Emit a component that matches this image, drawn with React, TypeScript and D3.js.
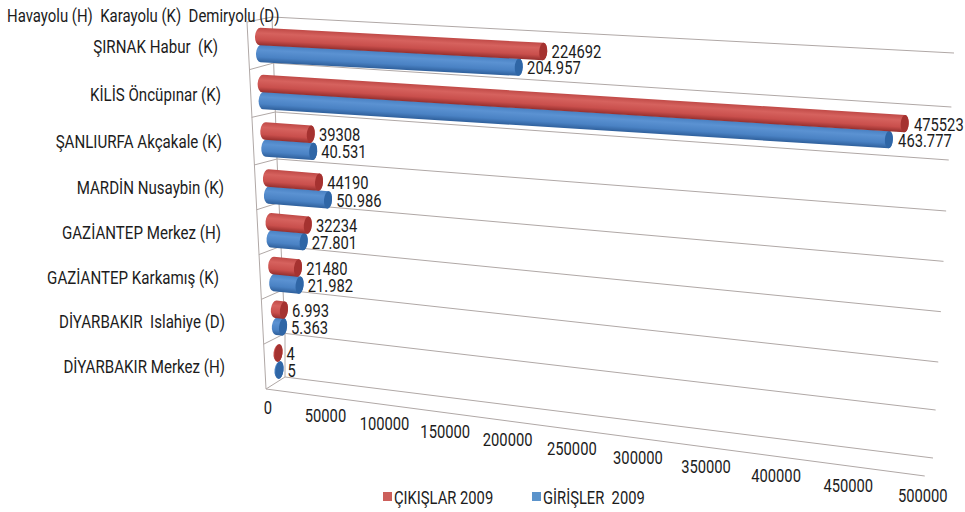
import React from "react";
import * as d3 from "d3";

const categories = ["ŞIRNAK Habur  (K)", "KİLİS Öncüpınar (K)", "ŞANLIURFA Akçakale (K)", "MARDİN Nusaybin (K)", "GAZİANTEP Merkez (H)", "GAZİANTEP Karkamış (K)", "DİYARBAKIR  Islahiye (D)", "DİYARBAKIR Merkez (H)"];
const cikislar = [224692, 475523, 39308, 44190, 32234, 21480, 6993, 4];
const girisler = [204957, 463777, 40531, 50986, 27801, 21982, 5363, 5];
const cikisLabels = ["224692", "475523", "39308", "44190", "32234", "21480", "6.993", "4"];
const girisLabels = ["204.957", "463.777", "40.531", "50.986", "27.801", "21.982", "5.363", "5"];
const ticks = [0, 50000, 100000, 150000, 200000, 250000, 300000, 350000, 400000, 450000, 500000];
const seriesNames = ["ÇIKIŞLAR 2009", "GİRİŞLER  2009"];
const note = "Havayolu (H)  Karayolu (K)  Demiryolu (D)";

const FONT = "Roboto,'Liberation Sans',sans-serif";
const INK = "#1c1c1c";
const LINE = "#b0a8a6";

// bar length along the (foreshortened) value axis
const barLen = d3.scaleLinear().domain([0, 50000, 225000, 476000]).range([0, 58, 284, 644]);
// row placement
const rowY = d3.scaleLinear().domain([0, 1, 2, 3, 7]).range([36.5, 83.5, 131, 178, 353]);
const rowX = d3.scaleLinear().domain([0, 7]).range([255, 273.5]);
const rowSlope = d3.scaleLinear().domain([0, 7]).range([0.053, 0.12]);
const labelY = d3.scaleLinear().domain([0, 1, 2, 3, 7]).range([53, 101, 148, 194, 373]);
const labelX = d3.scaleLinear().domain(d3.range(8)).range([218, 221, 222, 224, 221, 219, 225, 225]);
// walls and floor
const backX = d3.scaleLinear().domain([0, 3, 7, 8]).range([272, 277, 285, 285]);
const backY = d3.scaleLinear().domain([0, 1, 2, 3, 8]).range([17, 63, 112, 159, 377]);
const endX = d3.scaleLinear().domain([0, 8]).range([954, 933]);
const endY = d3.scaleLinear().domain([0, 1, 2, 3, 6, 8]).range([53, 107, 160, 211, 362, 458]);
const frontX = d3.scaleLinear().domain([0, 8]).range([247, 266]);
const frontY = d3.scaleLinear().domain([0, 3, 8]).range([22, 165, 389]);
// perspective on the value axis labels
const persp = (v: number) => {
  const u = v / 500000;
  return 268 + (567 * u) / (1 - 0.134 * u);
};
const tickY = d3.scaleLinear().domain([268, 923]).range([408, 496]);

const CAP_L = 5;
const CAP_R = 4;
const R = 8.7;

function Label({ x, y, anchor = "start", squeeze = 0.82, children }: any) {
  return (
    <text
      transform={`translate(${x},${y}) scale(${squeeze},1)`}
      textAnchor={anchor}
      fontSize={18}
      fill={INK}
      fontFamily={FONT}
      style={{ whiteSpace: "pre" }}
    >
      {children}
    </text>
  );
}

function Cyl({ i, value, dy, dx, cap, label, grad }: any) {
  const x0 = rowX(i) + dx;
  const y0 = rowY(i) + dy;
  const slope = rowSlope(i);
  const w = barLen(value);
  const angle = (Math.atan(slope) * 180) / Math.PI;
  const d = `M0,${-R} L${w},${-R} A${CAP_R},${R} 0 0 1 ${w},${R} L0,${R} A${CAP_L},${R} 0 0 1 0,${-R} Z`;
  const xEnd = x0 + CAP_L + w + CAP_R;
  const yEnd = y0 + slope * (CAP_L + w);
  return (
    <g>
      <g transform={`translate(${x0 + CAP_L},${y0}) rotate(${angle})`}>
        <path d={d} fill={`url(#${grad})`} />
        <ellipse cx={w} cy={0} rx={CAP_R} ry={R} fill={cap} />
      </g>
      <Label x={xEnd + 4} y={yEnd + 6.5}>{label}</Label>
    </g>
  );
}

export default function App() {
  const idx = d3.range(categories.length);
  return (
    <svg width={965} height={512} viewBox="0 0 965 512" style={{ position: "absolute", left: 0, top: 0, background: "#fff" }}>
      <defs>
        <linearGradient id="redG" x1="0" y1="0" x2="0" y2="1">
          <stop offset="0" stopColor="#c04a47" />
          <stop offset="0.3" stopColor="#d6625e" />
          <stop offset="0.7" stopColor="#c94f4c" />
          <stop offset="1" stopColor="#962f2e" />
        </linearGradient>
        <linearGradient id="blueG" x1="0" y1="0" x2="0" y2="1">
          <stop offset="0" stopColor="#4880c2" />
          <stop offset="0.3" stopColor="#5b92d2" />
          <stop offset="0.7" stopColor="#4a82c4" />
          <stop offset="1" stopColor="#2f609c" />
        </linearGradient>
      </defs>
      <g stroke={LINE} strokeWidth={1} fill="none">
        <path d={`M${frontX(0)},${frontY(0)} L${frontX(8)},${frontY(8)}`} />
        <path d={d3.line()(d3.range(9).map((k) => [backX(k), backY(k)]) as any) as string} />
        {d3.range(9).map((k) => (
          <g key={k}>
            <line x1={frontX(k)} y1={frontY(k)} x2={backX(k)} y2={backY(k)} />
            <line x1={backX(k)} y1={backY(k)} x2={endX(k)} y2={endY(k)} />
          </g>
        ))}
        <line x1={frontX(8)} y1={frontY(8)} x2={persp(500000) + 2} y2={476} />
      </g>
      {idx.map((i) => (
        <g key={i}>
          <Cyl i={i} value={girisler[i]} dy={17} dx={1} grad="blueG" cap="#2f66a6" label={girisLabels[i]} />
          <Cyl i={i} value={cikislar[i]} dy={0} dx={0} grad="redG" cap="#a53230" label={cikisLabels[i]} />
          <Label x={labelX(i)} y={labelY(i)} anchor="end" squeeze={0.84}>{categories[i]}</Label>
        </g>
      ))}
      {ticks.map((t) => (
        <Label key={t} x={persp(t)} y={tickY(persp(t)) + 6} anchor="middle">{t}</Label>
      ))}
      <Label x={7} y={22} squeeze={0.83}>{note}</Label>
      <rect x={383} y={492} width={9} height={9} fill="#cc5f5b" />
      <Label x={394} y={504}>{seriesNames[0]}</Label>
      <rect x={532} y={492} width={9} height={9} fill="#5b93cb" />
      <Label x={543} y={504}>{seriesNames[1]}</Label>
    </svg>
  );
}
